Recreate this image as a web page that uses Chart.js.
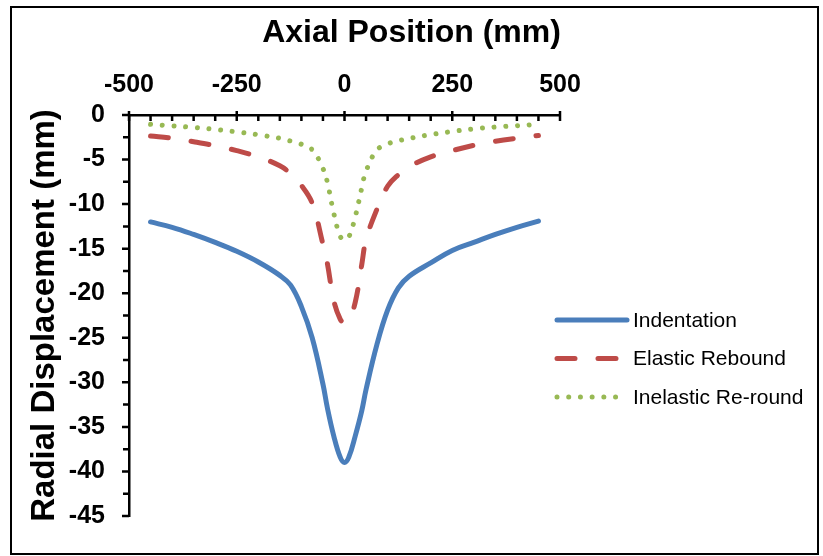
<!DOCTYPE html>
<html>
<head>
<meta charset="utf-8">
<script src="https://cdn.jsdelivr.net/npm/chart.js@4"></script>
<style>
  html, body { margin: 0; padding: 0; background: #fff; }
  #wrap { width: 823px; height: 556px; }
</style>
</head>
<body>
<div id="wrap"><canvas id="c" width="823" height="556"></canvas></div>
<script>
// Axial positions (mm) at which the radial displacement was sampled
const axialPos = [-450, -400, -350, -300, -250, -200, -150, -125, -100, -75, -50, -40, -25, -10, 0,
                  10, 25, 40, 50, 75, 100, 125, 150, 200, 250, 300, 350, 400, 450];

// Radial displacement (mm) for each loading stage
const indentation = [-12.0, -12.6, -13.4, -14.3, -15.3, -16.5, -18.0, -19.1, -21.5, -25.0, -30.2, -32.8, -36.0, -38.4, -39.0,
                     -38.4, -36.0, -33.2, -30.8, -25.8, -21.9, -19.4, -18.1, -16.6, -15.2, -14.3, -13.4, -12.6, -11.9];
const elasticRebound = [-2.35, -2.6, -3.0, -3.45, -4.0, -4.7, -5.7, -6.6, -7.9, -9.9, -14.5, -16.6, -20.8, -22.9, -23.3,
                        -23.0, -21.0, -16.8, -14.0, -10.6, -8.0, -6.7, -5.8, -4.7, -4.0, -3.4, -2.95, -2.6, -2.3];
const inelasticReround = [-1.05, -1.22, -1.4, -1.62, -1.9, -2.22, -2.62, -2.92, -3.28, -3.9, -6.0, -7.5, -11.0, -13.6, -14.0,
                          -13.7, -11.4, -8.2, -6.3, -3.95, -3.25, -2.9, -2.63, -2.2, -1.85, -1.55, -1.35, -1.2, -1.05];

const seriesNames = ['Indentation', 'Elastic Rebound', 'Inelastic Re-round'];
const xTickValues = [-500, -250, 0, 250, 500];
const yTickValues = [0, -5, -10, -15, -20, -25, -30, -35, -40, -45];

const FONT = "'Liberation Sans', Arial, sans-serif";

function toPoints(vals) {
  return axialPos.map((x, i) => ({ x: x, y: vals[i] }));
}

// Outer frame around the whole figure
const framePlugin = {
  id: 'frame',
  afterDraw(chart) {
    const ctx = chart.ctx;
    ctx.save();
    ctx.strokeStyle = '#000';
    ctx.lineWidth = 2;
    ctx.strokeRect(11, 7, 807, 547);
    ctx.restore();
  }
};

// Major and minor tick marks on both axes
const tickMarksPlugin = {
  id: 'tickMarks',
  afterDraw(chart) {
    const ctx = chart.ctx;
    const xs = chart.scales.x, ys = chart.scales.y;
    const area = chart.chartArea;
    ctx.save();
    ctx.strokeStyle = '#000';
    ctx.lineWidth = 2.5;
    ctx.lineCap = 'butt';
    ctx.beginPath();
    for (let v = -500; v <= 500; v += 50) {
      const px = xs.getPixelForValue(v);
      const major = v % 250 === 0;
      ctx.moveTo(px, major ? area.top - 4 : area.top);
      ctx.lineTo(px, area.top + 6);
    }
    for (let v = 0; v >= -45; v -= 2.5) {
      const py = ys.getPixelForValue(v);
      const major = v % 5 === 0;
      ctx.moveTo(area.left - (major ? 7 : 6), py);
      ctx.lineTo(area.left, py);
    }
    ctx.stroke();
    ctx.restore();
  }
};

// Legend drawn with each dataset's own line style
const legendPlugin = {
  id: 'sideLegend',
  afterDraw(chart) {
    const ctx = chart.ctx;
    ctx.save();
    chart.data.datasets.forEach((ds, i) => {
      const y = 320 + i * 38.5;
      ctx.beginPath();
      ctx.strokeStyle = ds.borderColor;
      ctx.lineWidth = ds.borderWidth;
      ctx.lineCap = 'round';
      ctx.setLineDash(ds.borderDash || []);
      ctx.moveTo(557, y);
      ctx.lineTo(627, y);
      ctx.stroke();
      ctx.setLineDash([]);
      ctx.fillStyle = '#000';
      ctx.font = '21px ' + FONT;
      ctx.textBaseline = 'middle';
      ctx.textAlign = 'left';
      ctx.fillText(ds.label, 633, y + 1);
    });
    ctx.restore();
  }
};

new Chart(document.getElementById('c'), {
  type: 'line',
  data: {
    datasets: [
      {
        label: seriesNames[0],
        data: toPoints(indentation),
        borderColor: '#4A7EBB',
        borderWidth: 5,
        borderDash: [],
        borderCapStyle: 'round',
        pointRadius: 0,
        tension: 0.4,
        fill: false
      },
      {
        label: seriesNames[1],
        data: toPoints(elasticRebound),
        borderColor: '#BE4B48',
        borderWidth: 5,
        borderDash: [18, 23],
        borderCapStyle: 'round',
        pointRadius: 0,
        tension: 0.4,
        fill: false
      },
      {
        label: seriesNames[2],
        data: toPoints(inelasticReround),
        borderColor: '#98B954',
        borderWidth: 5,
        borderDash: [0.01, 11.7],
        borderCapStyle: 'round',
        pointRadius: 0,
        tension: 0.4,
        fill: false
      }
    ]
  },
  options: {
    responsive: false,
    animation: false,
    events: [],
    layout: { padding: { left: 0, top: 0, right: 0, bottom: 40 } },
    plugins: {
      legend: { display: false },
      tooltip: { enabled: false },
      title: {
        display: true,
        text: 'Axial Position (mm)',
        color: '#000',
        font: { family: FONT, size: 32, weight: 'bold' },
        padding: { top: 14, bottom: 0 }
      }
    },
    scales: {
      x: {
        type: 'linear',
        position: 'top',
        min: -500,
        max: 500,
        afterBuildTicks(scale) { scale.ticks = xTickValues.map(v => ({ value: v })); },
        ticks: {
          color: '#000',
          font: { family: FONT, size: 25, weight: 'bold' },
          padding: 7,
          maxRotation: 0,
          autoSkip: false
        },
        grid: { display: false },
        border: { display: true, color: '#000', width: 2.5 },
        afterFit(scale) { scale.height = 115 - 52.4; }
      },
      y: {
        type: 'linear',
        position: 'left',
        min: -45,
        max: 0,
        afterBuildTicks(scale) { scale.ticks = yTickValues.map(v => ({ value: v })); },
        ticks: {
          color: '#000',
          font: { family: FONT, size: 25, weight: 'bold' },
          padding: 16,
          autoSkip: false
        },
        grid: { display: false },
        border: { display: true, color: '#000', width: 2.5 },
        title: {
          display: true,
          text: 'Radial Displacement (mm)',
          color: '#000',
          font: { family: FONT, size: 33, weight: 'bold' },
          padding: { top: 25, bottom: 0 }
        },
        afterFit(scale) { scale.width = 129; }
      },
      spacer: {
        type: 'linear',
        position: 'right',
        display: true,
        ticks: { display: false },
        grid: { display: false },
        border: { display: false },
        afterFit(scale) { scale.width = 263; }
      }
    }
  },
  plugins: [framePlugin, tickMarksPlugin, legendPlugin]
});
</script>
</body>
</html>
